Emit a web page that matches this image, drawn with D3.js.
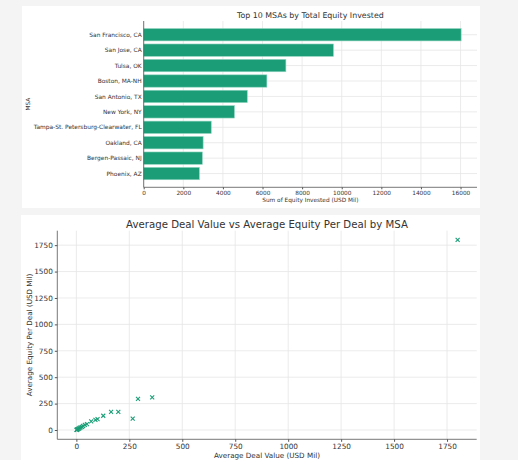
<!DOCTYPE html>
<meta charset="utf-8">
<script src="https://d3js.org/d3.v7.min.js"></script>
<style>
  body { margin: 0; background: #f4f4f4; }
  text { font-family: "DejaVu Sans", sans-serif; fill: #333; }
</style>
<div id="chart"></div>
<script>
// data
var msas = ["San Francisco, CA", "San Jose, CA", "Tulsa, OK", "Boston, MA-NH", "San Antonio, TX",
            "New York, NY", "Tampa-St. Petersburg-Clearwater, FL", "Oakland, CA", "Bergen-Passaic, NJ", "Phoenix, AZ"];
var equity = [16030, 9580, 7180, 6220, 5230, 4580, 3410, 3000, 2960, 2810];

var avgDeal   = [1800, 358, 291, 266, 198, 164, 127, 100, 90, 70, 50, 40, 32, 26, 20, 15, 12, 8, 5, 3, 2, 1];
var avgEquity = [1800, 308, 295, 107, 172, 172, 135, 103, 96, 82, 56, 48, 38, 30, 24, 19, 14, 10, 6, 4, 2, 1];

var xTicksTop = [0, 2000, 4000, 6000, 8000, 10000, 12000, 14000, 16000];
var ticksBottom = [0, 250, 500, 750, 1000, 1250, 1500, 1750];

var green = "#1b9e77", gridCol = "#e6e6e6", spineCol = "#555";
var fmt = d3.format("d");

var svg = d3.select("#chart").append("svg")
  .attr("width", 518).attr("height", 460);

// white cards
svg.append("rect").attr("x", 22).attr("y", 6).attr("width", 458).attr("height", 202).attr("fill", "#fff");
svg.append("rect").attr("x", 21).attr("y", 215).attr("width", 459).attr("height", 250).attr("fill", "#fff");

/////////// TOP: horizontal bars ///////////
var t = {left: 143.7, right: 477, top: 21, bottom: 187.3};
var x1 = d3.scaleLinear().domain([0, 16831]).range([t.left, t.right]);
var y1 = d3.scaleLinear().domain([-0.89, 9.89]).range([t.top, t.bottom]);
var g1 = svg.append("g");

// grid
g1.selectAll("vgrid").data(xTicksTop).enter().append("line")
  .attr("x1", d => x1(d)).attr("x2", d => x1(d))
  .attr("y1", t.top).attr("y2", t.bottom)
  .attr("stroke", gridCol).attr("stroke-width", 0.8);
g1.selectAll("hgrid").data(msas).enter().append("line")
  .attr("x1", t.left).attr("x2", t.right)
  .attr("y1", (d, i) => y1(i)).attr("y2", (d, i) => y1(i))
  .attr("stroke", gridCol).attr("stroke-width", 0.8);

// bars
g1.selectAll("bar").data(equity).enter().append("rect")
  .attr("x", x1(0))
  .attr("y", (d, i) => y1(i - 0.4))
  .attr("width", d => x1(d) - x1(0))
  .attr("height", y1(0.8) - y1(0))
  .attr("fill", green)
  .attr("stroke", "#8fd3bf").attr("stroke-width", 0.6);

// x axis
var ax1 = g1.append("g").attr("transform", "translate(0," + t.bottom + ")")
  .call(d3.axisBottom(x1).tickValues(xTicksTop).tickFormat(fmt).tickSize(2).tickPadding(1.5));
ax1.select(".domain").remove();
ax1.selectAll("line").attr("stroke", spineCol);
ax1.selectAll("text").style("font-size", "5.8px").attr("fill", "#444");
g1.append("line").attr("x1", t.left).attr("x2", t.right).attr("y1", t.bottom).attr("y2", t.bottom)
  .attr("stroke", spineCol).attr("stroke-width", 0.8);

// y labels
g1.selectAll("ylab").data(msas).enter().append("text")
  .attr("x", t.left - 2)
  .attr("y", (d, i) => y1(i))
  .attr("dy", "0.35em")
  .attr("text-anchor", "end")
  .style("font-size", "5.9px")
  .text(d => d);
g1.append("line").attr("x1", t.left).attr("x2", t.left).attr("y1", t.top).attr("y2", t.bottom)
  .attr("stroke", spineCol).attr("stroke-width", 0.8);

g1.append("text").attr("x", (t.left + t.right) / 2).attr("y", 17.5)
  .attr("text-anchor", "middle").style("font-size", "7.9px").text("Top 10 MSAs by Total Equity Invested");
g1.append("text").attr("x", (t.left + t.right) / 2).attr("y", 202)
  .attr("text-anchor", "middle").style("font-size", "5.8px").text("Sum of Equity Invested (USD Mil)");
g1.append("text").attr("transform", "translate(30," + ((t.top + t.bottom) / 2) + ") rotate(-90)")
  .attr("text-anchor", "middle").style("font-size", "5.8px").text("MSA");

/////////// BOTTOM: scatter ///////////
var b = {left: 57.3, right: 476.7, top: 230.7, bottom: 439.3};
var x2 = d3.scaleLinear().domain([-90, 1890]).range([b.left, b.right]);
var y2 = d3.scaleLinear().domain([-88, 1887]).range([b.bottom, b.top]);
var g2 = svg.append("g");

g2.selectAll("vgrid").data(ticksBottom).enter().append("line")
  .attr("x1", d => x2(d)).attr("x2", d => x2(d))
  .attr("y1", b.top).attr("y2", b.bottom)
  .attr("stroke", gridCol).attr("stroke-width", 0.8);
g2.selectAll("hgrid").data(ticksBottom).enter().append("line")
  .attr("x1", b.left).attr("x2", b.right)
  .attr("y1", d => y2(d)).attr("y2", d => y2(d))
  .attr("stroke", gridCol).attr("stroke-width", 0.8);

var ax2 = g2.append("g").attr("transform", "translate(0," + b.bottom + ")")
  .call(d3.axisBottom(x2).tickValues(ticksBottom).tickFormat(fmt).tickSize(2.5).tickPadding(2));
ax2.select(".domain").remove();
ax2.selectAll("line").attr("stroke", spineCol);
ax2.selectAll("text").style("font-size", "7.3px").attr("fill", "#444");

var ay2 = g2.append("g").attr("transform", "translate(" + b.left + ",0)")
  .call(d3.axisLeft(y2).tickValues(ticksBottom).tickFormat(fmt).tickSize(2.5).tickPadding(2));
ay2.select(".domain").remove();
ay2.selectAll("line").attr("stroke", spineCol);
ay2.selectAll("text").style("font-size", "7.3px").attr("fill", "#444");

g2.append("line").attr("x1", b.left).attr("x2", b.right).attr("y1", b.bottom).attr("y2", b.bottom)
  .attr("stroke", spineCol).attr("stroke-width", 0.8);
g2.append("line").attr("x1", b.left).attr("x2", b.left).attr("y1", b.top).attr("y2", b.bottom)
  .attr("stroke", spineCol).attr("stroke-width", 0.8);

// x markers
var pts = avgDeal.map((d, i) => [d, avgEquity[i]]);
var s = 2;
g2.selectAll("pt").data(pts).enter().append("path")
  .attr("d", d => {
    var px = x2(d[0]), py = y2(d[1]);
    return "M" + (px - s) + "," + (py - s) + "L" + (px + s) + "," + (py + s) +
           "M" + (px - s) + "," + (py + s) + "L" + (px + s) + "," + (py - s);
  })
  .attr("stroke", green).attr("stroke-width", 1.1).attr("fill", "none");

g2.append("text").attr("x", (b.left + b.right) / 2).attr("y", 227.5)
  .attr("text-anchor", "middle").style("font-size", "10.2px")
  .text("Average Deal Value vs Average Equity Per Deal by MSA");
g2.append("text").attr("x", (b.left + b.right) / 2).attr("y", 457.5)
  .attr("text-anchor", "middle").style("font-size", "7.2px").text("Average Deal Value (USD Mil)");
g2.append("text").attr("transform", "translate(31.5," + ((b.top + b.bottom) / 2) + ") rotate(-90)")
  .attr("text-anchor", "middle").style("font-size", "7.2px").text("Average Equity Per Deal (USD Mil)");
</script>
